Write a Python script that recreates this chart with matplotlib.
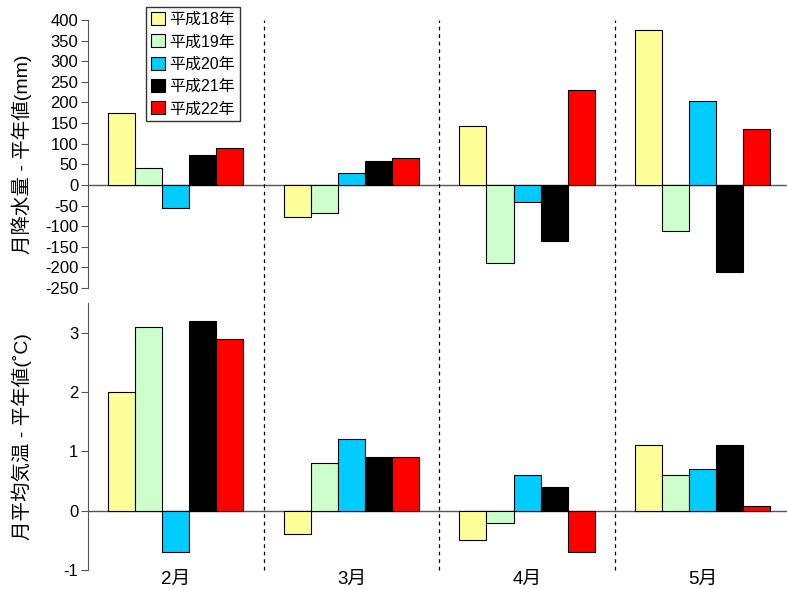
import matplotlib.pyplot as plt
import numpy as np

plt.rcParams['font.family'] = ['Liberation Sans', 'Noto Sans CJK JP', 'DejaVu Sans']
plt.rcParams['axes.unicode_minus'] = False

# Data ------------------------------------------------------------------------

months = ['2月', '3月', '4月', '5月']
years = ['平成18年', '平成19年', '平成20年', '平成21年', '平成22年']
colors = ['#FFFF99', '#CCFFCC', '#00CCFF', '#000000', '#FF0000']

# precipitation anomaly (mm), one list per year, by month
rain_h18 = [175, -77, 143, 376]
rain_h19 = [40, -68, -190, -112]
rain_h20 = [-55, 28, -42, 204]
rain_h21 = [73, 58, -136, -212]
rain_h22 = [90, 65, 230, 135]

# mean temperature anomaly (C)
temp_h18 = [2.0, -0.4, -0.5, 1.1]
temp_h19 = [3.1, 0.8, -0.2, 0.6]
temp_h20 = [-0.7, 1.2, 0.6, 0.7]
temp_h21 = [3.2, 0.9, 0.4, 1.1]
temp_h22 = [2.9, 0.9, -0.7, 0.08]

rain = [rain_h18, rain_h19, rain_h20, rain_h21, rain_h22]
temp = [temp_h18, temp_h19, temp_h20, temp_h21, temp_h22]

# Plot ------------------------------------------------------------------------

fig = plt.figure(figsize=(7.87, 5.90), dpi=100)
ax1 = fig.add_axes([0.1118, 0.5119, 0.8882, 0.4542])
ax2 = fig.add_axes([0.1118, 0.0339, 0.8882, 0.4525])

x = np.arange(len(months))
width = 0.154
spine_col = '#555555'


def draw(ax, data, ylim, yticks, ylabel, ext):
    for i, vals in enumerate(data):
        off = (i - 2) * width
        ax.bar(x + off, vals, width, color=colors[i], edgecolor='black',
               linewidth=0.8, label=years[i], zorder=3)
    ax.axhline(0, color=spine_col, lw=1, zorder=2)
    for d in [0.5, 1.5, 2.5]:
        ax.axvline(d, ymin=ext, ymax=1, color='black', ls=(0, (3, 3)),
                   lw=0.9, clip_on=False)
    ax.set_xlim(-0.5, 3.48)
    ax.set_ylim(*ylim)
    ax.set_yticks(yticks)
    for s in ['top', 'right', 'bottom']:
        ax.spines[s].set_visible(False)
    ax.spines['left'].set_color(spine_col)
    ax.tick_params(axis='y', direction='out', length=5, color=spine_col,
                   labelsize=12, pad=2)
    ax.set_ylabel(ylabel, fontsize=14)
    ax.yaxis.set_label_coords(-0.08, 0.5)


draw(ax1, rain, (-250, 400), np.arange(-250, 401, 50),
     '月降水量 - 平年値(mm)', -0.045)
ax1.set_xticks([])

draw(ax2, temp, (-1, 3.5), [-1, 0, 1, 2, 3],
     '月平均気温 - 平年値(˚C)', 0)
ax2.set_xticks(x)
ax2.set_xticklabels(months, fontsize=13.5)
ax2.tick_params(axis='x', length=0, pad=1)

leg = fig.legend(*ax1.get_legend_handles_labels(), loc='upper left',
                 bbox_to_anchor=(0.186, 0.988), fontsize=11.5, frameon=True,
                 fancybox=False, edgecolor='black', handlelength=0.85,
                 handleheight=0.9, handletextpad=0.3, labelspacing=0.45,
                 borderpad=0.3, borderaxespad=0)
leg.get_frame().set_linewidth(1)

fig.savefig('out.png', dpi=100)
